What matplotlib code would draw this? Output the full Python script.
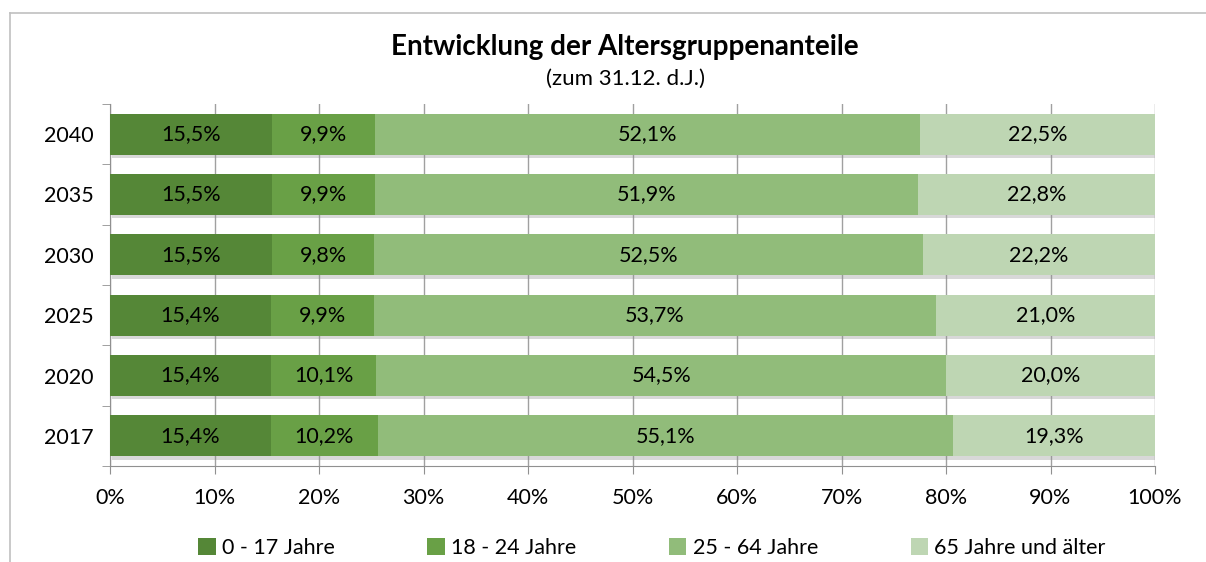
import numpy as np
import matplotlib
matplotlib.use('Agg')
import matplotlib.pyplot as plt
import matplotlib.patheffects as pe
from matplotlib.lines import Line2D
from matplotlib.patches import Patch

plt.rcParams['font.family'] = ['Lato', 'DejaVu Sans']

# data (top row first as in the picture)
years = ['2040', '2035', '2030', '2025', '2020', '2017']
groups = ['0 - 17 Jahre', '18 - 24 Jahre', '25 - 64 Jahre', '65 Jahre und älter']
share_0_17 = [15.5, 15.5, 15.5, 15.4, 15.4, 15.4]
share_18_24 = [9.9, 9.9, 9.8, 9.9, 10.1, 10.2]
share_25_64 = [52.1, 51.9, 52.5, 53.7, 54.5, 55.1]
share_65 = [22.5, 22.8, 22.2, 21.0, 20.0, 19.3]
colors = ['#558737', '#69A046', '#91BC7A', '#BED6B3']

series = [share_0_17, share_18_24, share_25_64, share_65]

fig = plt.figure(figsize=(12.06, 5.62), dpi=100)
ax = fig.add_axes([110 / 1206, 1 - 466 / 562, 1045 / 1206, 362 / 562])

y = np.arange(len(years))[::-1]
left = np.zeros(len(years))
shadow = [pe.SimplePatchShadow(offset=(1.5, -2.5), shadow_rgbFace='#909090', alpha=0.35), pe.Normal()]
for vals, name, col in zip(series, groups, colors):
    vals = np.array(vals)
    bars = ax.barh(y, vals, left=left, height=0.68, color=col, zorder=3)
    for b in bars:
        b.set_path_effects(shadow)
    for yi, l, v in zip(y, left, vals):
        ax.text(l + v / 2, yi, f"{v:.1f}%".replace('.', ','), ha='center', va='center',
                fontsize=15.5, color='black', zorder=4)
    left += vals

ax.set_xlim(0, 100)
ax.set_ylim(-0.5, len(years) - 0.5)
ax.set_xticks(np.arange(0, 101, 10))
ax.set_xticklabels([f"{t}%" for t in range(0, 101, 10)], fontsize=15.5)
ax.set_yticks(y)
ax.set_yticklabels(years, fontsize=15.5)
ax.set_yticks(np.arange(-0.5, len(years)), minor=True)
ax.tick_params(axis='y', which='major', length=0, pad=12)
ax.tick_params(axis='y', which='minor', length=6, color='#909090')
ax.tick_params(axis='x', length=6, color='#909090', pad=10)
ax.grid(axis='x', color='#A0A0A0', linewidth=1, zorder=0)
ax.set_axisbelow(True)
for s in ['top', 'right']:
    ax.spines[s].set_visible(False)
for s in ['left', 'bottom']:
    ax.spines[s].set_color('#909090')

fig.text(625 / 1206, 1 - 47 / 562, 'Entwicklung der Altersgruppenanteile', ha='center', va='center',
         fontsize=20, fontweight='bold')
fig.text(625 / 1206, 1 - 79 / 562, '(zum 31.12. d.J.)', ha='center', va='center', fontsize=16)

handles = [Patch(facecolor=c, label=g) for c, g in zip(colors, groups)]
ax.legend(handles=handles, loc='center', bbox_to_anchor=(652 / 1206, 1 - 548 / 562),
          bbox_transform=fig.transFigure, ncol=4, frameon=False, fontsize=15.5,
          handlelength=0.8, handleheight=0.8, handletextpad=0.3, columnspacing=4.3)

# outer chart border (cropped)
fig.add_artist(Line2D([10 / 1206, 1], [1 - 13 / 562] * 2, color='#C0C0C0', lw=1.2))
fig.add_artist(Line2D([10 / 1206] * 2, [0, 1 - 13 / 562], color='#C0C0C0', lw=1.2))

fig.savefig('out.png', dpi=100)
